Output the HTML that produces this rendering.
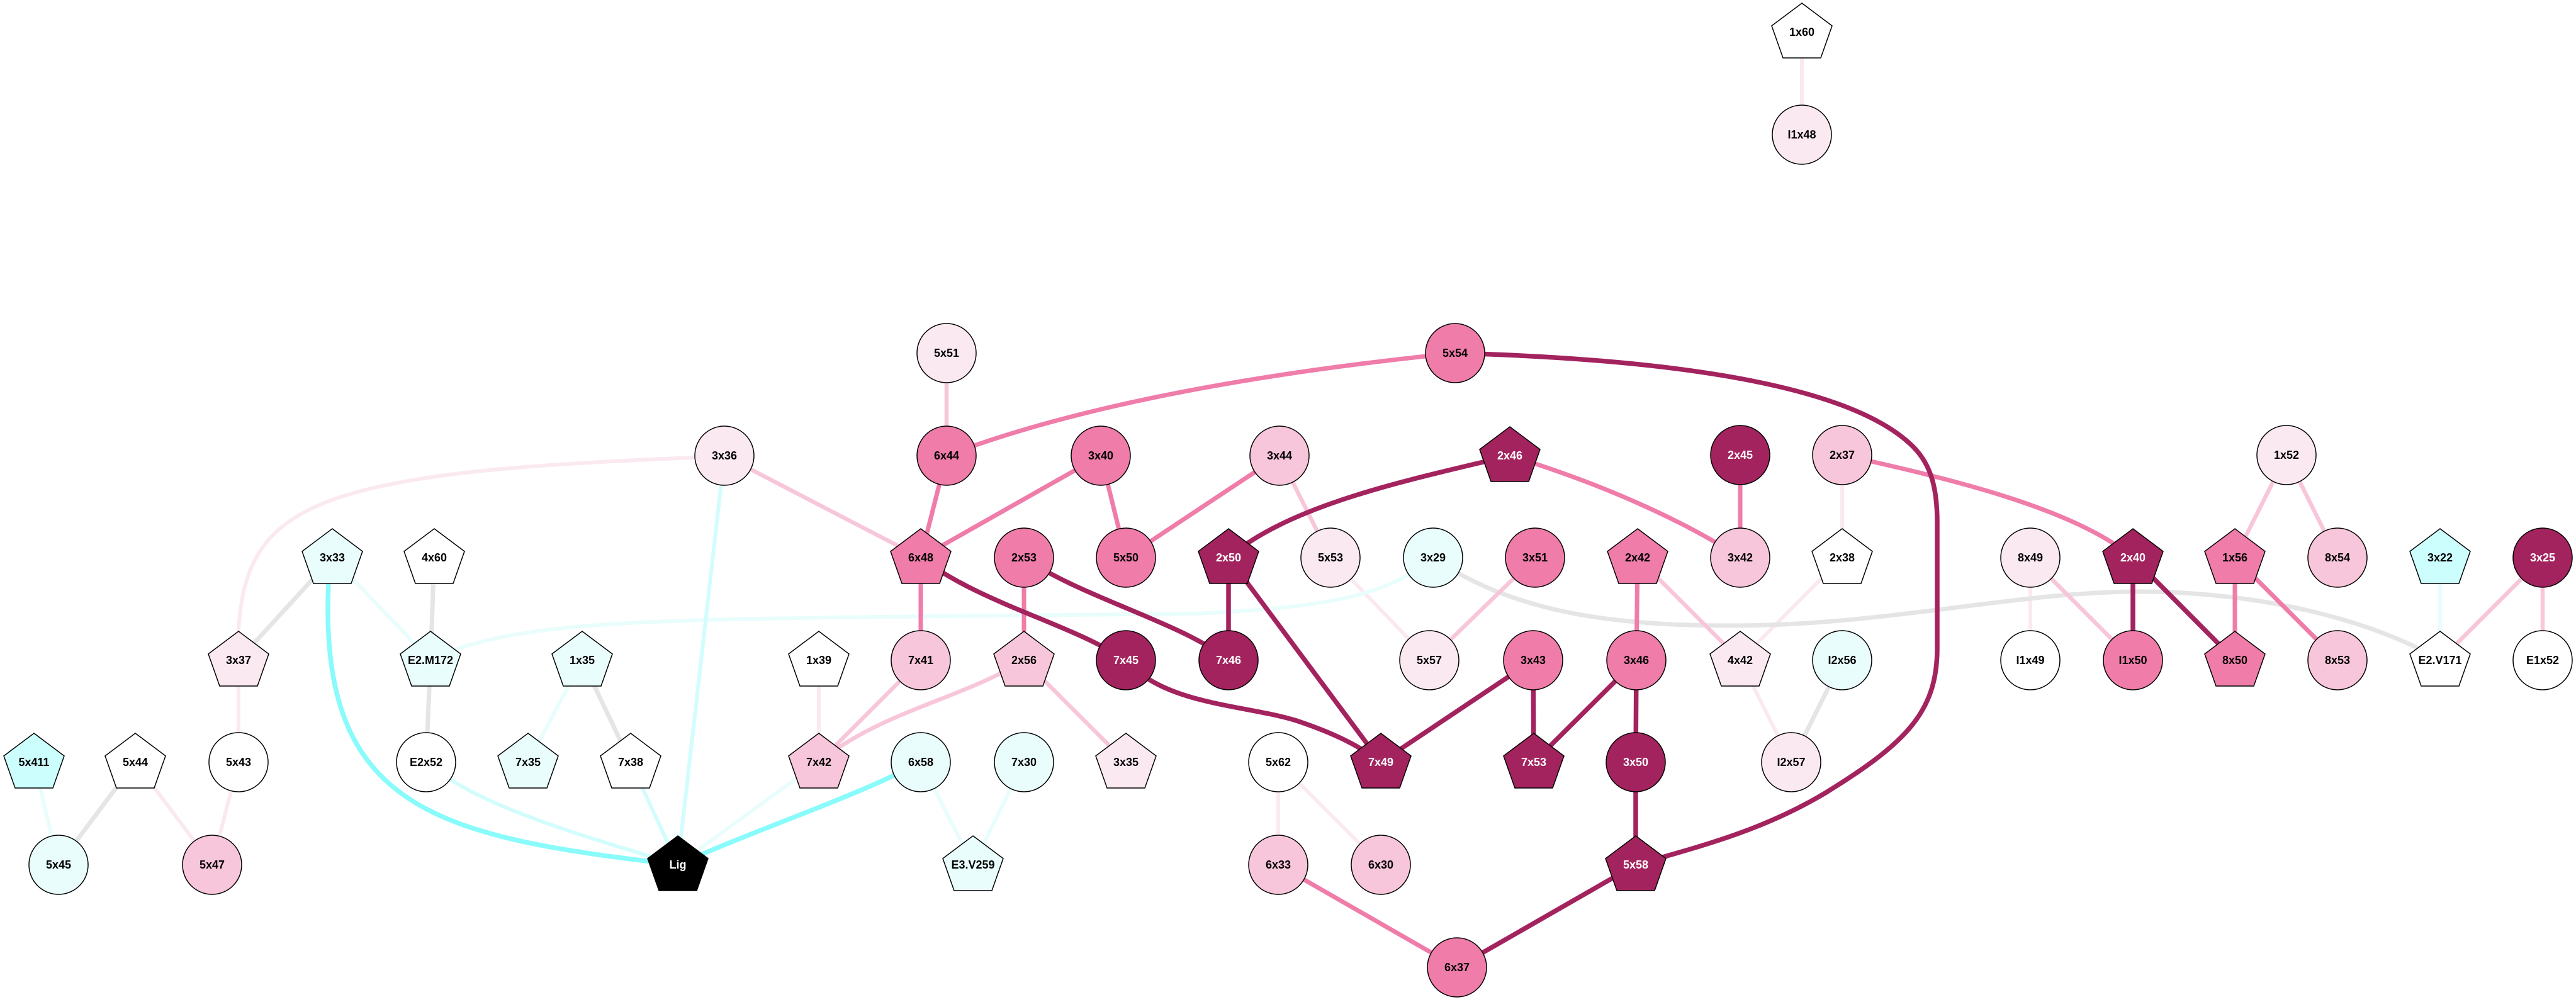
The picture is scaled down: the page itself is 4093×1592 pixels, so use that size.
<!DOCTYPE html>
<html><head><meta charset="utf-8"><style>
html,body{margin:0;padding:0;background:#fff}
svg{display:block}
text{font-family:"Liberation Sans",Arial,sans-serif;font-weight:bold;font-size:18px;text-anchor:middle;dominant-baseline:central}
.w{fill:#fff}
</style></head><body>
<svg width="4093" height="1592" viewBox="0 0 4093 1592" xmlns="http://www.w3.org/2000/svg">
<g fill="none" stroke-linecap="butt">
<g stroke="#fbe9f1" stroke-width="6">
<line x1="2863" y1="51" x2="2863" y2="214"/>
<path d="M1104 727 C 500 750, 390 800, 379 1003"/>
<line x1="1301" y1="1049" x2="1301" y2="1211"/>
<line x1="215" y1="1211" x2="337" y2="1374"/>
<line x1="379" y1="1211" x2="337" y2="1374"/>
<line x1="379" y1="1049" x2="379" y2="1211"/>
<line x1="2114" y1="886" x2="2271" y2="1049"/>
<line x1="2031" y1="1211" x2="2031" y2="1374"/>
<line x1="2031" y1="1211" x2="2194" y2="1374"/>
<line x1="2927" y1="723" x2="2927" y2="886"/>
<line x1="2927" y1="886" x2="2765" y2="1049"/>
<line x1="2765" y1="1049" x2="2846" y2="1211"/>
<line x1="3226" y1="886" x2="3226" y2="1049"/>
</g>
<g stroke="#e5e5e5" stroke-width="7">
<line x1="528" y1="886" x2="379" y2="1049"/>
<line x1="690" y1="886" x2="684" y2="1049"/>
<line x1="684" y1="1049" x2="677" y2="1211"/>
<line x1="925" y1="1049" x2="1002" y2="1211"/>
<line x1="215" y1="1211" x2="93" y2="1374"/>
<line x1="2927" y1="1049" x2="2846" y2="1211"/>
<path d="M2277 886 C 2400 970, 2550 994, 2750 994 C 3000 994, 3200 940, 3400 940 C 3600 940, 3780 990, 3877 1049"/>
</g>
<g stroke="#e8fdfc" stroke-width="6">
<line x1="528" y1="886" x2="684" y2="1049"/>
<path d="M684 1049 C 800 990, 1000 985, 1400 980 L 1900 975 C 2100 965, 2200 950, 2277 886"/>
<line x1="925" y1="1049" x2="839" y2="1211"/>
<line x1="54" y1="1211" x2="93" y2="1374"/>
<line x1="1301" y1="1211" x2="1077" y2="1374"/>
<line x1="1463" y1="1211" x2="1546" y2="1374"/>
<line x1="1627" y1="1211" x2="1546" y2="1374"/>
<line x1="3877" y1="886" x2="3877" y2="1049"/>
</g>
<g stroke="#d2fdfc" stroke-width="6">
<line x1="1151" y1="724" x2="1077" y2="1374"/>
<path d="M677 1211 C 760 1280, 900 1320, 1077 1374"/>
<line x1="1002" y1="1211" x2="1077" y2="1374"/>
</g>
<g stroke="#88fbfa" stroke-width="7.5">
<path d="M522 928 C 505 1290, 700 1330, 1077 1374"/>
<path d="M1077 1374 C 1220 1310, 1350 1270, 1463 1211"/>
</g>
<g stroke="#f8c6da" stroke-width="6.5">
<line x1="1504" y1="561" x2="1504" y2="724"/>
<line x1="1151" y1="724" x2="1463" y2="886"/>
<line x1="1463" y1="1049" x2="1301" y2="1211"/>
<path d="M1627 1049 C 1530 1110, 1400 1130, 1301 1211"/>
<line x1="2033" y1="724" x2="2114" y2="886"/>
<line x1="1627" y1="1049" x2="1789" y2="1211"/>
<line x1="2439" y1="886" x2="2271" y2="1049"/>
<line x1="2602" y1="886" x2="2765" y2="1049"/>
<line x1="3226" y1="886" x2="3389" y2="1049"/>
<line x1="3633" y1="723" x2="3551" y2="886"/>
<line x1="3633" y1="723" x2="3714" y2="886"/>
<line x1="4040" y1="886" x2="3877" y2="1049"/>
<line x1="4040" y1="886" x2="4040" y2="1049"/>
</g>
<g stroke="#ef7ca9" stroke-width="7">
<path d="M2312 561 Q 1792 614, 1504 724"/>
<line x1="1504" y1="724" x2="1463" y2="886"/>
<line x1="1749" y1="724" x2="1463" y2="886"/>
<line x1="1749" y1="724" x2="1789" y2="886"/>
<line x1="2033" y1="724" x2="1789" y2="886"/>
<line x1="1463" y1="886" x2="1463" y2="1049"/>
<line x1="1627" y1="886" x2="1627" y2="1049"/>
<path d="M2399 724 C 2550 770, 2680 830, 2765 886"/>
<line x1="2765" y1="723" x2="2765" y2="886"/>
<line x1="2602" y1="886" x2="2600" y2="1049"/>
<line x1="2031" y1="1374" x2="2315" y2="1537"/>
<path d="M2927 723 C 3100 760, 3300 810, 3389 886"/>
<line x1="3551" y1="886" x2="3551" y2="1049"/>
<line x1="3551" y1="886" x2="3714" y2="1049"/>
</g>
<g stroke="#a3235e" stroke-width="7.5">
<path d="M2312 561 C 2700 572, 2950 620, 3040 710 C 3070 740, 3078 780, 3078 830 L 3078 1030 C 3078 1130, 3030 1180, 2900 1260 C 2800 1320, 2700 1345, 2599 1374"/>
<path d="M1463 886 C 1560 960, 1700 990, 1789 1049"/>
<path d="M1627 886 C 1720 950, 1880 990, 1952 1049"/>
<path d="M1789 1049 C 1850 1120, 1980 1120, 2060 1145 C 2120 1165, 2160 1185, 2194 1211"/>
<path d="M2399 724 C 2250 760, 2050 800, 1952 886"/>
<line x1="1952" y1="886" x2="1952" y2="1049"/>
<line x1="1952" y1="886" x2="2194" y2="1211"/>
<line x1="2436" y1="1049" x2="2194" y2="1211"/>
<line x1="2436" y1="1049" x2="2437" y2="1211"/>
<line x1="2600" y1="1049" x2="2437" y2="1211"/>
<line x1="2600" y1="1049" x2="2599" y2="1211"/>
<line x1="2599" y1="1211" x2="2599" y2="1374"/>
<line x1="2599" y1="1374" x2="2315" y2="1537"/>
<line x1="3389" y1="886" x2="3389" y2="1049"/>
<line x1="3389" y1="886" x2="3551" y2="1049"/>
</g>
</g>
<g stroke="#000" stroke-width="1.5">
<g fill="#fbe9f1">
<circle cx="1151" cy="724" r="47"/><circle cx="1504" cy="561" r="47"/><circle cx="2114" cy="886" r="47"/><circle cx="2271" cy="1049" r="47"/><circle cx="2863" cy="214" r="47"/><circle cx="3633" cy="723" r="47"/><circle cx="3226" cy="886" r="47"/><circle cx="2846" cy="1211" r="47"/>
</g>
<g fill="#ffffff">
<circle cx="379" cy="1211" r="47"/><circle cx="677" cy="1211" r="47"/><circle cx="2031" cy="1211" r="47"/><circle cx="3226" cy="1049" r="47"/><circle cx="4040" cy="1049" r="47"/>
</g>
<g fill="#e8fdfc">
<circle cx="93" cy="1374" r="47"/><circle cx="2277" cy="886" r="47"/><circle cx="1463" cy="1211" r="47"/><circle cx="1627" cy="1211" r="47"/><circle cx="2927" cy="1049" r="47"/>
</g>
<g fill="#f8c6da">
<circle cx="337" cy="1374" r="47"/><circle cx="2033" cy="724" r="47"/><circle cx="1463" cy="1049" r="47"/><circle cx="2031" cy="1374" r="47"/><circle cx="2194" cy="1374" r="47"/><circle cx="2927" cy="723" r="47"/><circle cx="2765" cy="886" r="47"/><circle cx="3714" cy="886" r="47"/><circle cx="3714" cy="1049" r="47"/>
</g>
<g fill="#ef7ca9">
<circle cx="2312" cy="561" r="47"/><circle cx="1504" cy="724" r="47"/><circle cx="1749" cy="724" r="47"/><circle cx="1627" cy="886" r="47"/><circle cx="1789" cy="886" r="47"/><circle cx="2439" cy="886" r="47"/><circle cx="2436" cy="1049" r="47"/><circle cx="2600" cy="1049" r="47"/><circle cx="2315" cy="1537" r="47"/><circle cx="3389" cy="1049" r="47"/>
</g>
<g fill="#a3235e">
<circle cx="1789" cy="1049" r="47"/><circle cx="1952" cy="1049" r="47"/><circle cx="2599" cy="1211" r="47"/><circle cx="2765" cy="723" r="47"/><circle cx="4040" cy="886" r="47"/>
</g>
<g fill="#e8fdfc">
<polygon points="528,840 576,876 558,927 498,927 480,876"/>
<polygon points="684,1003 732,1039 714,1090 654,1090 636,1039"/>
<polygon points="925,1003 973,1039 955,1090 895,1090 877,1039"/>
<polygon points="839,1165 887,1201 869,1252 809,1252 791,1201"/>
<polygon points="1546,1328 1594,1364 1576,1415 1516,1415 1498,1364"/>
</g>
<g fill="#ccfefe">
<polygon points="54,1165 102,1201 84,1252 24,1252 6,1201"/>
<polygon points="3877,840 3925,876 3907,927 3847,927 3829,876"/>
</g>
<g fill="#ffffff">
<polygon points="690,840 738,876 720,927 660,927 642,876"/>
<polygon points="1301,1003 1349,1039 1331,1090 1271,1090 1253,1039"/>
<polygon points="215,1165 263,1201 245,1252 185,1252 167,1201"/>
<polygon points="1002,1165 1050,1201 1032,1252 972,1252 954,1201"/>
<polygon points="2863,5 2911,41 2893,92 2833,92 2815,41"/>
<polygon points="2927,840 2975,876 2957,927 2897,927 2879,876"/>
<polygon points="3877,1003 3925,1039 3907,1090 3847,1090 3829,1039"/>
</g>
<g fill="#fbe9f1">
<polygon points="379,1003 427,1039 409,1090 349,1090 331,1039"/>
<polygon points="1789,1165 1837,1201 1819,1252 1759,1252 1741,1201"/>
<polygon points="2765,1003 2813,1039 2795,1090 2735,1090 2717,1039"/>
</g>
<g fill="#f8c6da">
<polygon points="1301,1165 1349,1201 1331,1252 1271,1252 1253,1201"/>
<polygon points="1627,1003 1675,1039 1657,1090 1597,1090 1579,1039"/>
</g>
<g fill="#ef7ca9">
<polygon points="1463,840 1511,876 1493,927 1433,927 1415,876"/>
<polygon points="2602,840 2650,876 2632,927 2572,927 2554,876"/>
<polygon points="3551,840 3599,876 3581,927 3521,927 3503,876"/>
<polygon points="3551,1003 3599,1039 3581,1090 3521,1090 3503,1039"/>
</g>
<g fill="#a3235e">
<polygon points="2399,678 2447,714 2429,765 2369,765 2351,714"/>
<polygon points="1952,840 2000,876 1982,927 1922,927 1904,876"/>
<polygon points="2194,1165 2242,1201 2224,1252 2164,1252 2146,1201"/>
<polygon points="2437,1165 2485,1201 2467,1252 2407,1252 2389,1201"/>
<polygon points="2599,1328 2647,1364 2629,1415 2569,1415 2551,1364"/>
<polygon points="3389,840 3437,876 3419,927 3359,927 3341,876"/>
</g>
<polygon fill="#000" points="1077,1328 1125,1364 1107,1415 1047,1415 1029,1364"/>
</g>
<g fill="#000">
<text x="1151" y="724">3x36</text><text x="1504" y="561">5x51</text><text x="2114" y="886">5x53</text><text x="2271" y="1049">5x57</text><text x="2863" y="214">I1x48</text><text x="3633" y="723">1x52</text><text x="3226" y="886">8x49</text><text x="2846" y="1211">I2x57</text>
<text x="379" y="1211">5x43</text><text x="677" y="1211">E2x52</text><text x="2031" y="1211">5x62</text><text x="3226" y="1049">I1x49</text><text x="4040" y="1049">E1x52</text>
<text x="93" y="1374">5x45</text><text x="2277" y="886">3x29</text><text x="1463" y="1211">6x58</text><text x="1627" y="1211">7x30</text><text x="2927" y="1049">I2x56</text>
<text x="337" y="1374">5x47</text><text x="2033" y="724">3x44</text><text x="1463" y="1049">7x41</text><text x="2031" y="1374">6x33</text><text x="2194" y="1374">6x30</text><text x="2927" y="723">2x37</text><text x="2765" y="886">3x42</text><text x="3714" y="886">8x54</text><text x="3714" y="1049">8x53</text>
<text x="2312" y="561">5x54</text><text x="1504" y="724">6x44</text><text x="1749" y="724">3x40</text><text x="1627" y="886">2x53</text><text x="1789" y="886">5x50</text><text x="2439" y="886">3x51</text><text x="2436" y="1049">3x43</text><text x="2600" y="1049">3x46</text><text x="2315" y="1537">6x37</text><text x="3389" y="1049">I1x50</text>
<text x="528" y="886">3x33</text><text x="684" y="1049">E2.M172</text><text x="925" y="1049">1x35</text><text x="839" y="1211">7x35</text><text x="1546" y="1374">E3.V259</text>
<text x="54" y="1211">5x411</text><text x="3877" y="886">3x22</text>
<text x="690" y="886">4x60</text><text x="1301" y="1049">1x39</text><text x="215" y="1211">5x44</text><text x="1002" y="1211">7x38</text><text x="2863" y="51">1x60</text><text x="2927" y="886">2x38</text><text x="3877" y="1049">E2.V171</text>
<text x="379" y="1049">3x37</text><text x="1789" y="1211">3x35</text><text x="2765" y="1049">4x42</text>
<text x="1301" y="1211">7x42</text><text x="1627" y="1049">2x56</text>
<text x="1463" y="886">6x48</text><text x="2602" y="886">2x42</text><text x="3551" y="886">1x56</text><text x="3551" y="1049">8x50</text>
</g>
<g class="w">
<text x="1789" y="1049">7x45</text><text x="1952" y="1049">7x46</text><text x="2599" y="1211">3x50</text><text x="2765" y="723">2x45</text><text x="4040" y="886">3x25</text>
<text x="2399" y="724">2x46</text><text x="1952" y="886">2x50</text><text x="2194" y="1211">7x49</text><text x="2437" y="1211">7x53</text><text x="2599" y="1374">5x58</text><text x="3389" y="886">2x40</text>
<text x="1077" y="1374">Lig</text>
</g>
</svg>
</body></html>
